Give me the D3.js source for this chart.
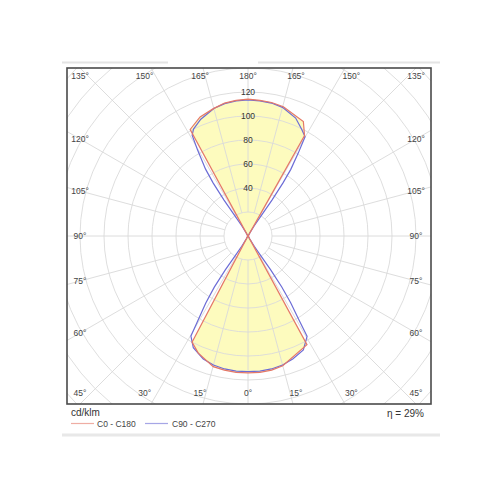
<!DOCTYPE html>
<html><head><meta charset="utf-8">
<script src="https://cdn.jsdelivr.net/npm/d3@7"></script>
<style>body{margin:0;background:#fff} svg{display:block}</style>
</head><body><svg id="c" width="500" height="500"></svg>
<script>
// ---- data ----
const ringValues = [20,40,60,80,100,120,140,160,180,200,220,240,260];
const ringLabels = [40,60,80,100,120];
const angleStep = 15;
const unitLabel = "cd/klm";
const efficiency = "η = 29%";
const seriesNames = ["C0 - C180", "C90 - C270"];

// C0 (right half), gamma 0..180
const gammaC0 = [0,5,10,15,28.5,30,45,90,135,149.5,150.6,154.2,164.7,170,175,180];
const valC0   = [114,114,113.5,112,103,3,0.5,0,0.5,3,96,106,111.7,113,113.5,114];
// C180 (left half)
const gammaC180 = [0,5,10,14.9,23,27.8,29.5,45,90,135,150,151.5,158.1,164.8,170,175,180];
const valC180   = [114,114,113.5,112.7,106,100,3,0.5,0,0.5,3,101,107,110,112.5,113.5,114];
// C90 (right half)
const gammaC90 = [0,5,10,15,20,25.9,30.5,31.3,32.6,33.5,33.8,33,31.5,30,45,90,135,150,148.5,147,146.3,146.6,147.3,148.8,150.1,153.3,158,165,170,175,180];
const valC90   = [113,113,112.5,111.3,109,105.6,97,81,66,51,34,20,10,3,0.5,0,0.5,3,10,20,36,53,66,81,95.4,99.5,106,111,112.5,113,113.5];
// C270 (left half)
const gammaC270 = [0,5,10,15,20,26.1,29.7,30.7,32.2,33.4,33.8,33,31.5,30,45,90,135,150,148.5,147,146.3,146.7,147.6,149.6,151,153,158,165,170,175,180];
const valC270   = [113,113,112.5,111.3,109,103.6,96,81,66,51,34,20,10,3,0.5,0,0.5,3,10,20,36,53,66,83,96,100,105,110,112,113,113.5];

// ---- layout ----
const svg = d3.select("#c");
const cx = 248, cy = 236;
const box = {x0:67, y0:68, x1:431, y1:404};
const r = d3.scaleLinear().domain([0,120]).range([0,144]);
const deg = Math.PI/180;
const redCol = "#e57868", blueCol = "#6c6cd6", gridCol = "#dadada";
const fontF = "'Liberation Sans Narrow','Arial Narrow','Liberation Sans',Arial,sans-serif";
const fontN = "'Liberation Sans',Arial,sans-serif";

// separators
svg.append("line").attr("x1",62).attr("x2",168).attr("y1",62.5).attr("y2",62.5).attr("stroke","#e4e4e4").attr("stroke-width",2);
svg.append("line").attr("x1",258).attr("x2",440).attr("y1",62.5).attr("y2",62.5).attr("stroke","#e4e4e4").attr("stroke-width",2);
svg.append("line").attr("x1",62).attr("x2",440).attr("y1",435).attr("y2",435).attr("stroke","#e8e8e8").attr("stroke-width",3);

svg.append("clipPath").attr("id","clip").append("rect")
  .attr("x",box.x0).attr("y",box.y0).attr("width",box.x1-box.x0).attr("height",box.y1-box.y0);

const g = svg.append("g").attr("clip-path","url(#clip)");
const p = g.append("g").attr("transform",`translate(${cx},${cy})`);

// polar helpers: right half -> compass angle 180-γ, left half -> 180+γ
function halfPts(gs, vs, side){
  return gs.map((gm,i)=>[ (side>0 ? 180-gm : 180+gm)*deg, r(vs[i]) ]);
}
const radial = d3.lineRadial().angle(d=>d[0]).radius(d=>d[1]);

const c0 = halfPts(gammaC0,valC0,1);
const c180 = halfPts(gammaC180,valC180,-1).reverse();
const c90 = halfPts(gammaC90,valC90,1);
const c270 = halfPts(gammaC270,valC270,-1).reverse();

// fill
p.append("path").attr("d", radial(c0.concat(c180)) + "Z")
  .attr("fill","#fdfbbe").attr("stroke","none");

// grid rings
p.selectAll("circle.ring").data(ringValues).join("circle")
  .attr("r",d=>r(d)).attr("fill","none").attr("stroke",gridCol).attr("stroke-width",1).attr("opacity",0.9);
// radial lines
const dirs = d3.range(0,360,angleStep);
p.selectAll("line.sp").data(dirs).join("line")
  .attr("x1",d=>r(20)*Math.sin(d*deg)).attr("y1",d=>-r(20)*Math.cos(d*deg))
  .attr("x2",d=>400*Math.sin(d*deg)).attr("y2",d=>-400*Math.cos(d*deg))
  .attr("stroke",gridCol).attr("stroke-width",1).attr("opacity",0.9);

// curves
p.append("path").attr("d", radial(c90.concat(c270))+"Z").attr("fill","none")
  .attr("stroke",blueCol).attr("stroke-width",1.2);
p.append("path").attr("d", radial(c0.concat(c180))+"Z").attr("fill","none")
  .attr("stroke",redCol).attr("stroke-width",1.2);

// ring labels
p.selectAll("text.rl").data(ringLabels).join("text")
  .attr("x",0).attr("y",d=>-r(d)).attr("text-anchor","middle").attr("dominant-baseline","central")
  .attr("font-family",fontF).attr("font-size",8.5).attr("fill","#333").text(d=>d);

// box
svg.append("rect").attr("x",box.x0).attr("y",box.y0).attr("width",box.x1-box.x0).attr("height",box.y1-box.y0)
  .attr("fill","none").attr("stroke","#4a4a4a").attr("stroke-width",1.6);

// angle labels
const Hx = 168, Hy = 179;
svg.selectAll("text.al").data(dirs).join("text")
  .each(function(d){
    const sx = Math.sin(d*deg), sy = -Math.cos(d*deg);
    const t = Math.min(Math.abs(sx)>1e-6?Hx/Math.abs(sx):1e9, Math.abs(sy)>1e-6?Hy/Math.abs(sy):1e9);
    const x = Math.max(78, Math.min(417, cx + t*sx));
    const y = Math.max(76, Math.min(393, cy + t*sy));
    const gm = d<=180 ? 180-d : d-180;
    d3.select(this).attr("x",x).attr("y",y).text(gm+"°");
  })
  .attr("text-anchor","middle").attr("dominant-baseline","central")
  .attr("font-family",fontF).attr("font-size",8.5).attr("fill","#444");

// legend
svg.append("text").attr("x",71).attr("y",416).attr("font-family",fontN).attr("font-size",10).attr("fill","#333").text(unitLabel);
svg.append("line").attr("x1",71).attr("x2",94).attr("y1",423.5).attr("y2",423.5).attr("stroke",redCol).attr("stroke-width",1.2).attr("opacity",0.6);
svg.append("text").attr("x",97).attr("y",427).attr("font-family",fontN).attr("font-size",8.5).attr("fill","#444").text(seriesNames[0]);
svg.append("line").attr("x1",145).attr("x2",168).attr("y1",423.5).attr("y2",423.5).attr("stroke",blueCol).attr("stroke-width",1.2).attr("opacity",0.6);
svg.append("text").attr("x",172).attr("y",427).attr("font-family",fontN).attr("font-size",8.5).attr("fill","#444").text(seriesNames[1]);
svg.append("text").attr("x",424).attr("y",417).attr("text-anchor","end").attr("font-family",fontN).attr("font-size",10).attr("fill","#333").text(efficiency);
</script></body></html>
